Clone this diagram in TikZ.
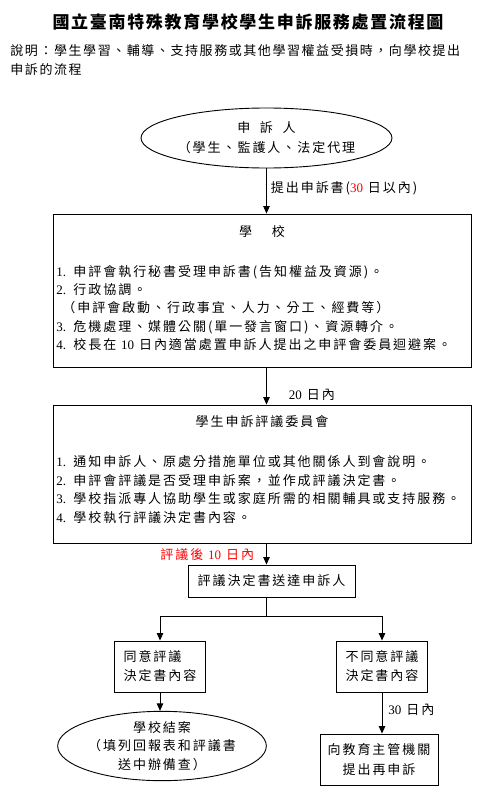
\documentclass[tikz,border=0pt]{standalone}
\usepackage{fontspec}
\setmainfont{Liberation Serif}
\newfontfamily\cjk[LetterSpace=15]{Noto Sans CJK TC}
\usetikzlibrary{arrows.meta, positioning, shapes.geometric}

\newcommand\lat[1]{{\rmfamily #1}}
\newcommand\no[1]{\makebox[17pt][l]{\rmfamily #1.}}

\begin{document}
\begin{tikzpicture}[x=1pt, y=-1pt, line width=0.9pt,
	txt/.style={font=\cjk\fontsize{13}{18.4}\selectfont, inner sep=0pt},
	listtxt/.style={txt, align=left, anchor=west},
	box/.style={draw, rectangle, inner sep=0pt},
	oval/.style={draw, ellipse, inner sep=0pt},
	arr/.style={-{Triangle[length=7.5pt, width=6.5pt]}}
]
	
	% page
	\useasboundingbox[fill=white] (0,0) rectangle (497,800);
	
	% title and note
	\node[font=\cjk\bfseries\addfontfeature{LetterSpace=10}\fontsize{17}{20}\selectfont] (title) at (248,22) {國立臺南特殊教育學校學生申訴服務處置流程圖};
	\node[txt, align=left, anchor=west, font=\cjk\addfontfeature{LetterSpace=12}\fontsize{13}{19}\selectfont] (note) at (10,60.5) {說明：學生學習、輔導、支持服務或其他學習權益受損時，向學校提出\\申訴的流程};
	
	% complainant (top)
	\node[oval, txt, align=center, minimum width=227pt, minimum height=60pt] (complainant) at (266.5,138) {申\ \ 訴\ \ 人\\[1.6pt]（學生、監護人、法定代理};
	
	% school
	\node[box, minimum width=418pt, minimum height=153pt] (school) at (262,290.5) {};
	\node[txt] (school-title) at (262,232) {學\hspace{20pt}校};
	\node[listtxt] (school-list) at (56,308) {\no{1}申評會執行秘書受理申訴書(告知權益及資源)。\\\no{2}行政協調。\\\hspace{6pt}（申評會啟動、行政事宜、人力、分工、經費等）\\\no{3}危機處理、媒體公關(單一發言窗口)、資源轉介。\\\no{4}校長在 \lat{10} 日內適當處置申訴人提出之申評會委員迴避案。};
	
	% committee
	\node[box, minimum width=418pt, minimum height=138pt] (committee) at (262,474) {};
	\node[txt] (committee-title) at (262,422) {學生申訴評議委員會};
	\node[listtxt] (committee-list) at (56,489.5) {\no{1}通知申訴人、原處分措施單位或其他關係人到會說明。\\\no{2}申評會評議是否受理申訴案，並作成評議決定書。\\\no{3}學校指派專人協助學生或家庭所需的相關輔具或支持服務。\\\no{4}學校執行評議決定書內容。};
	
	% decision sent
	\node[box, txt, minimum width=167pt, minimum height=32pt] (deliver) at (271.5,581) {評議決定書送達申訴人};
	\coordinate (split) at (266.5,616);
	
	% agree / disagree
	\node[box, txt, align=left, minimum width=91pt, minimum height=51pt] (agree) at (160,666.5) {同意評議\\[0.6pt]決定書內容};
	\node[box, txt, align=left, minimum width=91pt, minimum height=51pt] (disagree) at (382,666.5) {不同意評議\\[0.6pt]決定書內容};
	
	% endings
	\node[oval, txt, align=center, minimum width=199pt, minimum height=66pt] (closed) at (162,746) {學校結案\\（填列回報表和評議書\\送中辦備查）};
	\node[box, txt, align=center, minimum width=118pt, minimum height=51pt] (appeal) at (379,759.5) {向教育主管機關\\[1pt]提出再申訴};
	
	% arrows
	\draw[arr] (complainant.south) -- node[txt, pos=0.43, right=4pt] {提出申訴書(\lat{\textcolor{red}{30}} 日以內)} (complainant.south |- school.north);
	\draw[arr] (school.south -| complainant) -- node[txt, pos=0.73, right=22pt] {\lat{20} 日內} (committee.north -| complainant);
	\draw[arr] (committee.south -| complainant) -- node[txt, pos=0.55, left=12pt, red] {評議後 \lat{10} 日內} (deliver.north -| complainant);
	\draw (deliver.south -| complainant) -- (split);
	\draw[arr] (split) -| (agree.north);
	\draw[arr] (split) -| (disagree.north);
	\draw[arr] (agree.south) -- (agree.south |- closed.north);
	\draw[arr] (disagree.south) -- node[txt, pos=0.43, right=6pt] {\lat{30} 日內} (disagree.south |- appeal.north);
	
\end{tikzpicture}
\end{document}
